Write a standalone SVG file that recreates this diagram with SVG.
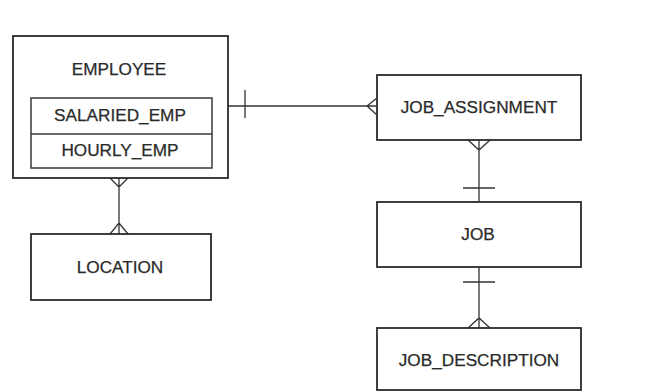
<svg xmlns="http://www.w3.org/2000/svg" width="659" height="391" viewBox="0 0 659 391">
<style>
.box{fill:none;stroke:#2b2b2b;stroke-width:1.8}
.inner{fill:none;stroke:#3a3a3a;stroke-width:1.5}
.lbl{font-family:"Liberation Sans",Arial,sans-serif;font-size:17.2px;fill:#2a2a2a;stroke:#2a2a2a;stroke-width:0.25;text-anchor:middle;dominant-baseline:central}
.conn{fill:none;stroke:#333;stroke-width:1.3}
</style>
<rect width="659" height="391" fill="#ffffff"/>
<g id="connectors">
<path class="conn" d="M119,178 V234 M110,178 L119,187 L128,178 M110,234 L119,223 L128,234"/>
<path class="conn" d="M228,106 H377 M245,90 V118 M377,98 L367,106 L377,115"/>
<path class="conn" d="M479,140 V202 M468,140 L479,150 L490,140 M463,188 H495"/>
<path class="conn" d="M479,267 V328 M463,282 H495 M468,328 L479,318 L490,328"/>
</g>
<g id="employee">
<rect class="box" x="13" y="36" width="215" height="142"/>
<text class="lbl" x="119" y="69">EMPLOYEE</text>
<rect class="inner" x="31" y="98" width="181" height="70"/>
<line class="inner" x1="31" y1="134" x2="212" y2="134"/>
<text class="lbl" x="120" y="115">SALARIED_EMP</text>
<text class="lbl" x="120" y="150">HOURLY_EMP</text>
</g>
<g id="location">
<rect class="box" x="31" y="234" width="180" height="66"/>
<text class="lbl" x="120" y="267">LOCATION</text>
</g>
<g id="job_assignment">
<rect class="box" x="377" y="75" width="204" height="65"/>
<text class="lbl" x="479" y="107">JOB_ASSIGNMENT</text>
</g>
<g id="job">
<rect class="box" x="377" y="202" width="204" height="65"/>
<text class="lbl" x="478" y="234">JOB</text>
</g>
<g id="job_description">
<rect class="box" x="377" y="328" width="204" height="62"/>
<text class="lbl" x="479" y="360">JOB_DESCRIPTION</text>
</g>
</svg>
